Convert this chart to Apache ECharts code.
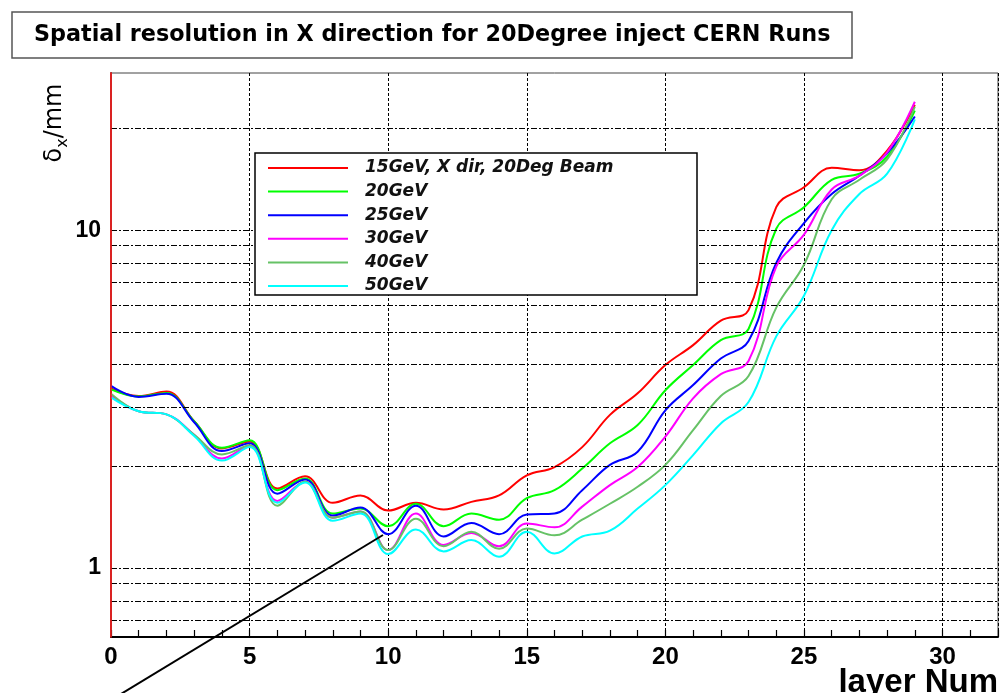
<!DOCTYPE html>
<html>
<head>
<meta charset="utf-8">
<script src="https://cdn.jsdelivr.net/npm/echarts@6/dist/echarts.min.js"></script>
<style>
html,body{margin:0;padding:0;background:#fff;}
#chart{width:1008px;height:693px;}
</style>
</head>
<body>
<div id="chart"></div>
<script>
const layers = [0,1,2,3,4,5,6,7,8,9,10,11,12,13,14,15,16,17,18,19,20,21,22,23,24,25,26,27,28,29];
const seriesNames = ['15GeV, X dir, 20Deg Beam','20GeV','25GeV','30GeV','40GeV','50GeV'];
const seriesColors = ['#ff0000','#00ff00','#0000ff','#ff00ff','#66c266','#00ffff'];
const res15 = [3.40,3.23,3.33,2.72,2.26,2.37,1.72,1.87,1.56,1.64,1.48,1.56,1.49,1.57,1.64,1.88,1.99,2.28,2.84,3.29,3.99,4.57,5.40,5.80,11.7,13.4,15.3,15.05,17.2,23.5];
const res20 = [3.38,3.22,3.30,2.72,2.27,2.39,1.70,1.84,1.45,1.50,1.33,1.55,1.33,1.45,1.39,1.61,1.70,1.97,2.34,2.65,3.36,3.99,4.73,5.10,10.1,11.7,14.1,14.7,16.5,22.6];
const res25 = [3.46,3.21,3.28,2.70,2.22,2.34,1.66,1.83,1.43,1.51,1.26,1.53,1.24,1.36,1.26,1.44,1.45,1.70,2.02,2.21,2.93,3.48,4.17,4.70,8.0,10.5,12.8,14.5,16.9,21.7];
const res30 = [3.25,2.91,2.85,2.48,2.11,2.30,1.58,1.80,1.41,1.47,1.13,1.45,1.17,1.27,1.16,1.355,1.32,1.52,1.76,1.99,2.45,3.18,3.75,4.10,7.8,9.7,13.2,14.5,17.0,24.0];
const res40 = [3.28,2.91,2.85,2.48,2.17,2.31,1.53,1.80,1.41,1.47,1.13,1.40,1.16,1.28,1.14,1.31,1.25,1.39,1.55,1.74,2.02,2.56,3.23,3.70,5.9,7.9,12.35,14.1,16.2,23.2];
const res50 = [3.20,2.91,2.85,2.46,2.08,2.28,1.56,1.79,1.38,1.45,1.10,1.30,1.12,1.21,1.08,1.28,1.105,1.24,1.29,1.50,1.76,2.16,2.68,3.10,4.85,6.4,10.0,12.8,14.7,21.3];
const allValues = [res15,res20,res25,res30,res40,res50];
const yGridTicks = [0.7,0.8,0.9,1,2,3,4,5,6,7,8,9,10,20];
const yLabelTicks = [1,10];
const titleText = 'Spatial resolution in X direction for 20Degree inject CERN Runs';
const xTitle = 'layer Num';

const chart = echarts.init(document.getElementById('chart'));
const gridDash = [6,2,2,2];
const series = [{
  type:'line', name:'grid', data:[], z:1, silent:true,
  markLine:{ silent:true, symbol:['none','none'], label:{show:false}, animation:false,
    lineStyle:{color:'#000', width:1, type:gridDash}, emphasis:{disabled:true},
    data: yGridTicks.map(v=>({yAxis:v})) }
}];
allValues.forEach((vals,i)=>{
  series.push({
    type:'line', name:seriesNames[i], smooth:0.4, showSymbol:false, symbol:'none',
    data: layers.map((l,k)=>[l, vals[k]]),
    lineStyle:{color:seriesColors[i], width:2},
    itemStyle:{color:seriesColors[i]}, z:3, animation:false
  });
});

chart.setOption({
  animation:false,
  title:{ text:titleText, left:12, top:12, padding:[12,22,12,22], borderColor:'#555', borderWidth:1.5,
    textStyle:{fontFamily:'DejaVu Sans', fontWeight:'bold', fontSize:22.3, color:'#000'} },
  grid:{ left:111, right:10, top:73, bottom:56, show:true, borderColor:'#444', borderWidth:1, backgroundColor:'#fff' },
  legend:{ orient:'vertical', left:268, top:158, itemWidth:80, itemHeight:2, itemGap:3.6, icon:'rect',
    padding:0, z:60, selectedMode:false, data:seriesNames,
    textStyle:{fontFamily:'DejaVu Sans', fontWeight:'bold', fontStyle:'italic', fontSize:17, color:'#111', lineHeight:20, padding:[0,0,0,12]} },
  xAxis:[{
    type:'value', min:0, max:32, interval:5, position:'bottom',
    axisLine:{lineStyle:{color:'#000', width:2}},
    axisTick:{show:false},
    axisLabel:{ margin:8, fontFamily:'Liberation Sans', fontWeight:'bold', fontSize:24, color:'#000',
      formatter:v=> (v%5===0 ? String(v) : '') },
    splitLine:{show:true, lineStyle:{color:'#000', width:1, type:[3,2]}}
  },{
    type:'value', min:0, max:32, interval:1, position:'bottom',
    axisLine:{show:false}, axisLabel:{show:false}, splitLine:{show:false},
    axisTick:{show:true, inside:true, length:7, lineStyle:{color:'#000', width:1.2}}
  }],
  yAxis:[{
    type:'log', logBase:10, min:0.625, max:29.2,
    axisLine:{show:true, lineStyle:{color:'#6b2a2a', width:2}},
    axisTick:{show:false},
    splitLine:{show:false},
    axisLabel:{ margin:10, fontFamily:'Liberation Sans', fontWeight:'bold', fontSize:23, color:'#000',
      formatter:v=>{ for (const t of yLabelTicks){ if (Math.abs(v-t)<1e-6*t) return String(t);} return ''; } }
  },{
    type:'value', min:0, max:1, position:'right', z:10,
    axisLine:{show:true, lineStyle:{color:'#ff2020', width:1.5}},
    axisTick:{show:false}, axisLabel:{show:false}, splitLine:{show:false}
  }],
  graphic:[
    { type:'rect', z:50, shape:{x:255, y:153, width:442, height:142}, style:{fill:'#fff', stroke:'#000', lineWidth:1.5} },
    { type:'line', z:100, shape:{x1:116, y1:697, x2:383, y2:535}, style:{stroke:'#000', lineWidth:2} },
    { type:'text', z:100, x:55, y:123, rotation:Math.PI/2,
      style:{ text:'{a|δ}{b|x}{a|/mm}', align:'center', verticalAlign:'middle', fill:'#000',
        rich:{ a:{fontFamily:'DejaVu Sans', fontSize:24, lineHeight:32, fill:'#000'},
               b:{fontFamily:'DejaVu Sans', fontSize:16, lineHeight:16, verticalAlign:'bottom', fill:'#000'} } } },
    { type:'text', z:100, x:998, y:683,
      style:{ text:xTitle, align:'right', verticalAlign:'middle', fill:'#000',
        font:'bold 33px "Liberation Sans", Arial, sans-serif' } }
  ],
  series: series
});
</script>
</body>
</html>
